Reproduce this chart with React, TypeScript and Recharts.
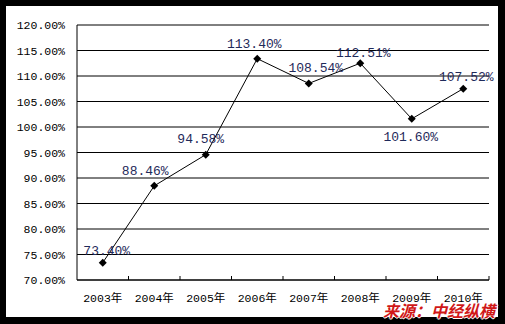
import { LineChart, Line, XAxis, YAxis, CartesianGrid, ReferenceLine, LabelList } from 'recharts'

const years = ['2003年', '2004年', '2005年', '2006年', '2007年', '2008年', '2009年', '2010年']
const ratios = [73.40, 88.46, 94.58, 113.40, 108.54, 112.51, 101.60, 107.52]
const yTicks = [70, 75, 80, 85, 90, 95, 100, 105, 110, 115, 120]

const data = years.map((year, i) => ({ year, ratio: ratios[i] }))

const FONT = '"Liberation Mono", "Noto Sans CJK SC", monospace'
const BAND = 412 / years.length

// label nudges per point
const labelNudge: Record<number, [number, number]> = {
  0: [4, -8],
  1: [-9, -11],
  2: [-5, -12],
  3: [-3, -11],
  4: [7, -11],
  5: [3, -6],
  6: [-1, 22],
  7: [3, -8],
}

function Diamond(props: any) {
  const { cx, cy } = props
  if (cx == null || cy == null) return null
  return <path d={`M${cx},${cy - 4}L${cx + 4},${cy}L${cx},${cy + 4}L${cx - 4},${cy}Z`} fill="#000" />
}

function XTick(props: any) {
  const { x, y, payload } = props
  const edge = x + BAND / 2
  return (
    <g>
      <line x1={edge} x2={edge} y1={280 - 4} y2={280} stroke="#000" />
      <text x={x} y={302} textAnchor="middle" fontSize={11.5} fontFamily={FONT} fill="#000">
        {payload.value}
      </text>
    </g>
  )
}

function PointLabel(props: any) {
  const { x, y, value, index } = props
  const [dx, dy] = labelNudge[index] || [0, -12]
  return (
    <text x={x + dx} y={y + dy} textAnchor="middle" fontSize={13} fontFamily={FONT} fill="#1f2a5a">
      {`${Number(value).toFixed(2)}%`}
    </text>
  )
}

export default function App() {
  return (
    <div style={{ position: 'fixed', left: 0, top: 0, width: 505, height: 324, background: '#000' }}>
      <div style={{ position: 'absolute', left: 6, top: 6, width: 492, height: 311, background: '#fff' }} />
      <div style={{ position: 'absolute', left: 0, top: 0 }}>
        <LineChart width={505} height={324} data={data} margin={{ top: 25, right: 16, bottom: 14, left: 7 }}>
          <CartesianGrid vertical={false} stroke="#000" strokeOpacity={1} />
          <XAxis
            dataKey="year"
            height={30}
            axisLine={{ stroke: '#000' }}
            tickLine={false}
            tick={<XTick />}
            interval={0}
            padding={{ left: BAND / 2, right: BAND / 2 }}
          />
          <YAxis
            domain={[70, 120]}
            ticks={yTicks}
            width={70}
            axisLine={{ stroke: '#000' }}
            tickLine={false}
            tickSize={6}
            tickMargin={6}
            interval={0}
            tickFormatter={(v: number) => `${v.toFixed(2)}%`}
            tick={{ fontSize: 11.5, fontFamily: FONT, fill: '#000' }}
          />
          <YAxis yAxisId="edge" orientation="right" width={0} tick={false} axisLine={{ stroke: '#808080' }} tickLine={false} />
          <ReferenceLine y={120} stroke="#808080" />
          <Line
            dataKey="ratio"
            stroke="#000"
            strokeWidth={1}
            dot={<Diamond />}
            activeDot={false}
            isAnimationActive={false}
          >
            <LabelList dataKey="ratio" content={<PointLabel />} />
          </Line>
        </LineChart>
      </div>
      <div
        style={{
          position: 'absolute', left: 383, top: 301, fontSize: 16, fontWeight: 'bold', fontStyle: 'italic',
          fontFamily: '"Noto Sans CJK SC", sans-serif', color: '#d01818', lineHeight: '18px',
          textShadow: '1px 0 #fff, -1px 0 #fff, 0 1px #fff, 0 -1px #fff', whiteSpace: 'nowrap',
        }}
      >
        来源：中经纵横
      </div>
    </div>
  )
}
